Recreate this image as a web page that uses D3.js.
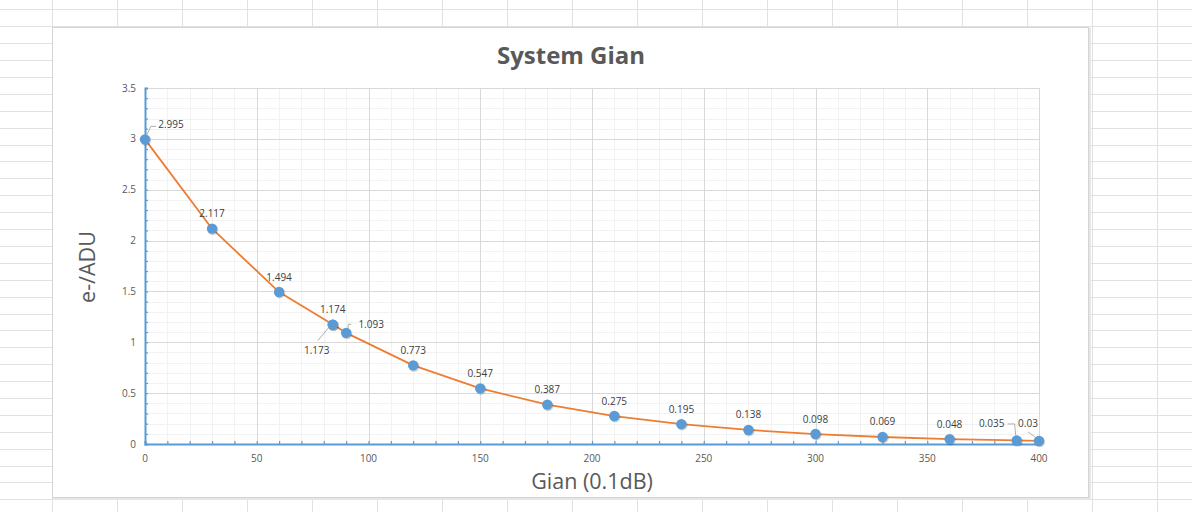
<!DOCTYPE html>
<html>
<head>
<meta charset="utf-8">
<script src="https://cdn.jsdelivr.net/npm/d3@7"></script>
<style>
  body { margin: 0; background: #fff; }
  svg { display: block; font-family: "Open Sans", "Noto Sans", sans-serif; }
</style>
</head>
<body>
<div id="chart"></div>
<script>

// data
const gain = [0, 30, 60, 84, 84, 90, 120, 150, 180, 210, 240, 270, 300, 330, 360, 390, 400];
const eADU = [2.995, 2.117, 1.494, 1.174, 1.173, 1.093, 0.773, 0.547, 0.387, 0.275, 0.195, 0.138, 0.098, 0.069, 0.048, 0.035, 0.03];
const xTicks = [0, 50, 100, 150, 200, 250, 300, 350, 400];
const yTicks = [0, 0.5, 1, 1.5, 2, 2.5, 3, 3.5];

const title = "System Gian";
const xTitle = "Gian (0.1dB)";
const yTitle = "e-/ADU";

const width = 1192;
const height = 512;

const svg = d3.select("#chart")
    .append("svg")
    .attr("width", width)
    .attr("height", height);

// spreadsheet cells behind the chart
const sheet = svg.append("g");
d3.range(-13, width, 65).forEach(function(x) {
    sheet.append("line")
        .attr("x1", x + 0.5).attr("x2", x + 0.5)
        .attr("y1", 0).attr("y2", height)
        .attr("stroke", "#e1e1e1");
});
d3.range(9.3, height, 16.9).forEach(function(y) {
    sheet.append("line")
        .attr("x1", 0).attr("x2", width)
        .attr("y1", Math.round(y) + 0.5).attr("y2", Math.round(y) + 0.5)
        .attr("stroke", "#e1e1e1");
});

// chart box
svg.append("rect")
    .attr("x", 53).attr("y", 28)
    .attr("width", 1038).attr("height", 472)
    .attr("fill", "#e6e6e6");
svg.append("rect")
    .attr("x", 52.5).attr("y", 27.5)
    .attr("width", 1036).attr("height", 470)
    .attr("fill", "#fff")
    .attr("stroke", "#d4d4d4");

const margin = { top: 88, left: 145, right: 1192 - 1039, bottom: 512 - 444 };

const xScale = d3.scaleLinear()
    .domain([0, 400])
    .range([margin.left, width - margin.right]);

const yScale = d3.scaleLinear()
    .domain([0, 3.5])
    .range([height - margin.bottom, margin.top]);

// minor grid
const grid = svg.append("g");
grid.selectAll(".vminor")
    .data(d3.range(10, 400, 10).filter(function(d) { return d % 50 !== 0; }))
    .enter().append("line")
    .attr("x1", function(d) { return Math.round(xScale(d)) + 0.5; })
    .attr("x2", function(d) { return Math.round(xScale(d)) + 0.5; })
    .attr("y1", yScale(3.5)).attr("y2", yScale(0))
    .attr("stroke", "#f2f2f2");
grid.selectAll(".hminor")
    .data(d3.range(1, 35).filter(function(d) { return d % 5 !== 0; }).map(function(d) { return d / 10; }))
    .enter().append("line")
    .attr("x1", xScale(0)).attr("x2", xScale(400))
    .attr("y1", function(d) { return Math.round(yScale(d)) + 0.5; })
    .attr("y2", function(d) { return Math.round(yScale(d)) + 0.5; })
    .attr("stroke", "#f2f2f2");

// major grid
grid.selectAll(".vmajor")
    .data(xTicks.slice(1))
    .enter().append("line")
    .attr("x1", function(d) { return Math.round(xScale(d)) + 0.5; })
    .attr("x2", function(d) { return Math.round(xScale(d)) + 0.5; })
    .attr("y1", yScale(3.5)).attr("y2", yScale(0))
    .attr("stroke", "#d9d9d9");
grid.selectAll(".hmajor")
    .data(yTicks.slice(1))
    .enter().append("line")
    .attr("x1", xScale(0)).attr("x2", xScale(400))
    .attr("y1", function(d) { return Math.round(yScale(d)) + 0.5; })
    .attr("y2", function(d) { return Math.round(yScale(d)) + 0.5; })
    .attr("stroke", "#d9d9d9");

// axes
const axisColor = "#5b9bd5";
const xAxis = svg.append("g")
    .attr("transform", "translate(0," + yScale(0) + ")")
    .call(d3.axisBottom(xScale).tickValues(d3.range(0, 401, 10)).tickSize(-3).tickFormat(""));
const yAxis = svg.append("g")
    .attr("transform", "translate(" + xScale(0) + ",0)")
    .call(d3.axisLeft(yScale).tickValues(d3.range(0, 36).map(function(d) { return d / 10; })).tickSize(-3).tickFormat(""));
[xAxis, yAxis].forEach(function(ax) {
    ax.select(".domain").attr("stroke", axisColor).attr("stroke-width", 2);
    ax.selectAll(".tick line").attr("stroke", axisColor).attr("stroke-width", 1.2);
});

svg.selectAll(".xlab")
    .data(xTicks)
    .enter().append("text")
    .attr("x", function(d) { return xScale(d); })
    .attr("y", yScale(0) + 18)
    .attr("text-anchor", "middle")
    .attr("font-size", 10)
    .attr("fill", "#595959")
    .text(function(d) { return d; });

svg.selectAll(".ylab")
    .data(yTicks)
    .enter().append("text")
    .attr("x", xScale(0) - 9)
    .attr("y", function(d) { return yScale(d) + 3.5; })
    .attr("text-anchor", "end")
    .attr("font-size", 10)
    .attr("fill", "#595959")
    .text(function(d) { return d; });

// line
const points = gain.map(function(g, i) { return { x: g, y: eADU[i], i: i }; });
const curvePoints = points.filter(function(d, i) { return i !== 4; });

svg.append("path")
    .datum(curvePoints)
    .attr("fill", "none")
    .attr("stroke", "#ed7d31")
    .attr("stroke-width", 1.8)
    .attr("stroke-linejoin", "round")
    .attr("d", d3.line()
        .x(function(d) { return xScale(d.x); })
        .y(function(d) { return yScale(d.y); }));

// markers
svg.selectAll(".shadow")
    .data(points)
    .enter().append("circle")
    .attr("cx", function(d) { return xScale(d.x) + 0.8; })
    .attr("cy", function(d) { return yScale(d.y) + 1; })
    .attr("r", 5.4)
    .attr("fill", "#000")
    .attr("opacity", 0.18);
svg.selectAll(".marker")
    .data(points)
    .enter().append("circle")
    .attr("cx", function(d) { return xScale(d.x); })
    .attr("cy", function(d) { return yScale(d.y); })
    .attr("r", 5.2)
    .attr("fill", "#5b9bd5");

// data labels, most sit above their point; a few were dragged away with leader lines
const labelShift = {
    0: [26, -15],
    4: [-16, 26],
    5: [25, -8],
    15: [-25, -17],
    16: [-11, -17]
};
const leaders = {
    0: [[1.5, -4], [6, -13], [11, -13]],
    4: [[-4, 3], [-15, 16]],
    5: [[2, -4], [2, -8.5], [5, -8.5]],
    15: [[-1, -5], [-2, -16.5], [-9, -16.5]],
    16: [[-4, -4], [-11, -9]]
};

svg.selectAll(".leader")
    .data(points.filter(function(d) { return leaders[d.i]; }))
    .enter().append("path")
    .attr("fill", "none")
    .attr("stroke", "#a6a6a6")
    .attr("stroke-width", 0.9)
    .attr("d", function(d) {
        const px = xScale(d.x), py = yScale(d.y);
        return d3.line()(leaders[d.i].map(function(p) { return [px + p[0], py + p[1]]; }));
    });

svg.selectAll(".dlabel")
    .data(points)
    .enter().append("text")
    .attr("x", function(d) {
        const s = labelShift[d.i] || [0, -15];
        return xScale(d.x) + s[0];
    })
    .attr("y", function(d) {
        const s = labelShift[d.i] || [0, -15];
        return yScale(d.y) + s[1] + 3.5;
    })
    .attr("text-anchor", "middle")
    .attr("font-size", 10)
    .attr("fill", "#404040")
    .text(function(d) { return d.y; });

// titles
svg.append("text")
    .attr("x", 571)
    .attr("y", 64)
    .attr("text-anchor", "middle")
    .attr("font-size", 24)
    .attr("font-weight", "bold")
    .attr("fill", "#595959")
    .text(title);

svg.append("text")
    .attr("x", 592)
    .attr("y", 489)
    .attr("text-anchor", "middle")
    .attr("font-size", 21.5)
    .attr("fill", "#595959")
    .text(xTitle);

svg.append("text")
    .attr("transform", "rotate(-90)")
    .attr("x", -267)
    .attr("y", 95)
    .attr("text-anchor", "middle")
    .attr("font-size", 21.5)
    .attr("fill", "#595959")
    .text(yTitle);

</script>
</body>
</html>
